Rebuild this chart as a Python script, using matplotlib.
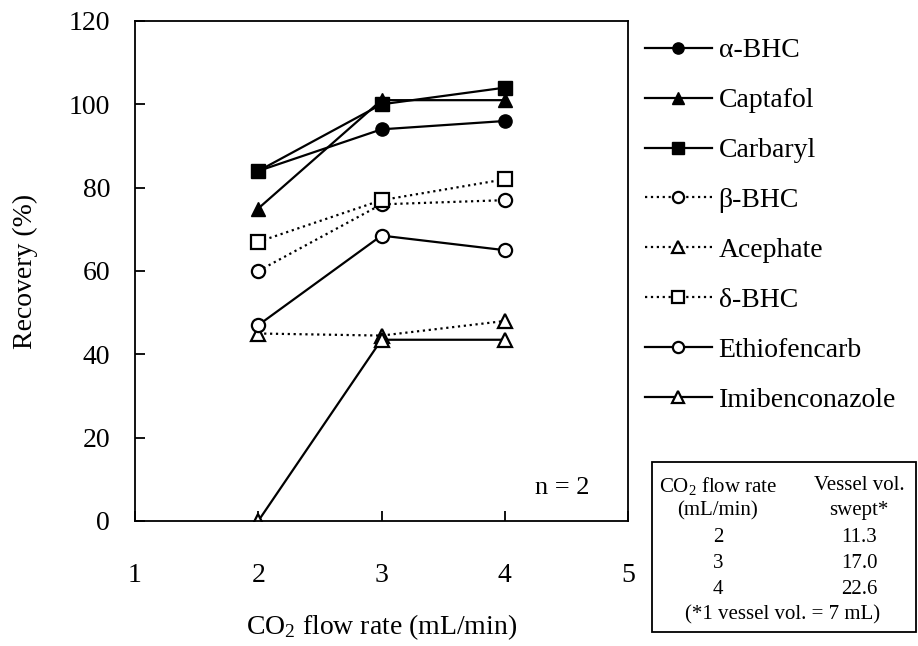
import numpy as np
import matplotlib.pyplot as plt
from matplotlib.patches import Rectangle

plt.rcParams['font.family'] = ['Liberation Serif', 'DejaVu Serif']
plt.rcParams['mathtext.fontset'] = 'custom'
plt.rcParams['mathtext.rm'] = 'Liberation Serif'
plt.rcParams['mathtext.default'] = 'regular'

# Data
flow_rate = [2, 3, 4]
alpha_bhc = [84, 94, 96]
captafol = [75, 101, 101]
carbaryl = [84, 100, 104]
beta_bhc = [60, 76, 77]
acephate = [45, 44.5, 48]
delta_bhc = [67, 77, 82]
ethiofencarb = [47, 68.5, 65]
imibenconazole = [0, 43.5, 43.5]

table_flow = ['2', '3', '4']
table_vol = ['11.3', '17.0', '22.6']

fig = plt.figure(figsize=(9.18, 6.46), dpi=100)
ax = fig.add_axes([135 / 918, 1 - 521 / 646, 493 / 918, 500 / 646])

ax.plot(flow_rate, alpha_bhc, '-', marker='o', color='black', lw=1.6, ms=9.5, label='α-BHC')
ax.plot(flow_rate, captafol, '-', marker='^', color='black', lw=1.6, ms=10.5, label='Captafol')
ax.plot(flow_rate, carbaryl, '-', marker='s', color='black', lw=1.6, ms=9.5, label='Carbaryl')
ax.plot(flow_rate, beta_bhc, ':', marker='o', color='black', lw=1.6, ms=9.5, mfc='white', mew=1.6, label='β-BHC')
ax.plot(flow_rate, acephate, ':', marker='^', color='black', lw=1.6, ms=10.5, mfc='white', mew=1.6, label='Acephate')
ax.plot(flow_rate, delta_bhc, ':', marker='s', color='black', lw=1.6, ms=9.5, mfc='white', mew=1.6, label='δ-BHC')
ax.plot(flow_rate, ethiofencarb, '-', marker='o', color='black', lw=1.6, ms=9.5, mfc='white', mew=1.6, label='Ethiofencarb')
ax.plot(flow_rate, imibenconazole, '-', marker='^', color='black', lw=1.6, ms=10.5, mfc='white', mew=1.6, label='Imibenconazole')

ax.set_xlim(1, 5)
ax.set_ylim(0, 120)
ax.set_xticks([1, 2, 3, 4, 5])
ax.set_yticks(range(0, 121, 20))
ax.tick_params(direction='in', length=7, width=1.3, labelsize=20, top=False, right=False)
ax.tick_params(axis='x', pad=30)
ax.tick_params(axis='y', pad=18)
for sp in ax.spines.values():
    sp.set_linewidth(1.3)
ax.set_xlabel('CO$_2$ flow rate (mL/min)', fontsize=20, labelpad=18)
ax.set_ylabel('Recovery (%)', fontsize=20, labelpad=22)
ax.text(4.47, 8, 'n = 2', fontsize=19, ha='center', va='center')

fig.legend(loc='upper left', bbox_to_anchor=(645 / 918, 1 - 38 / 646), frameon=False,
           fontsize=20, handlelength=2.4, handletextpad=0.25, labelspacing=0.88,
           borderaxespad=0, borderpad=0, markerscale=0.85)

# CO2 flow rate / vessel volume table
fig.add_artist(Rectangle((652 / 918, 1 - 632 / 646), 264 / 918, 170 / 646,
                         transform=fig.transFigure, fill=False, lw=1.3, color='black'))
col1 = 718 / 918
col2 = 859 / 918
fig.text(col1, 1 - 486 / 646, 'CO$_2$ flow rate', fontsize=15, ha='center', va='center')
fig.text(col2, 1 - 486 / 646, 'Vessel vol.', fontsize=15, ha='center', va='center')
fig.text(col1, 1 - 511 / 646, '(mL/min)', fontsize=15, ha='center', va='center')
fig.text(col2, 1 - 511 / 646, 'swept*', fontsize=15, ha='center', va='center')
for i, (f, v) in enumerate(zip(table_flow, table_vol)):
    y = 1 - (538 + 26 * i) / 646
    fig.text(col1, y, f, fontsize=15, ha='center', va='center')
    fig.text(col2, y, v, fontsize=15, ha='center', va='center')
fig.text(783 / 918, 1 - 615 / 646, '(*1 vessel vol. = 7 mL)', fontsize=15, ha='center', va='center')

fig.savefig('out.png', dpi=100)
